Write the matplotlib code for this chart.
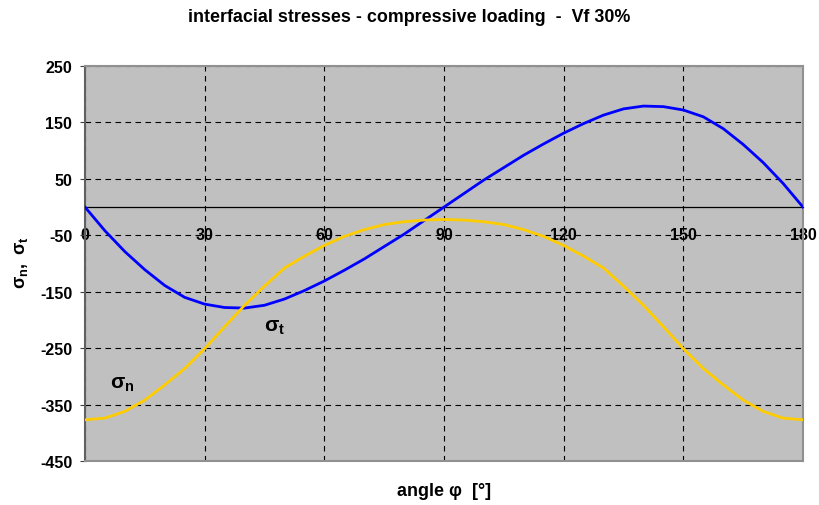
import matplotlib.pyplot as plt
import numpy as np

# angle in degrees, values every 5 deg
angle = [0, 5, 10, 15, 20, 25, 30, 35, 40, 45, 50, 55, 60, 65, 70, 75, 80, 85, 90,
         95, 100, 105, 110, 115, 120, 125, 130, 135, 140, 145, 150, 155, 160, 165, 170, 175, 180]
sigma_t = [0, -42, -79, -111, -139, -160, -172, -178, -179, -174, -163, -148, -131, -112, -92, -70, -48, -24, 0,
           24, 48, 70, 92, 112, 131, 148, 163, 174, 179, 178, 172, 160, 139, 111, 79, 42, 0]
sigma_n = [-377, -374, -362, -342, -315, -286, -251, -212, -174, -140, -108, -87, -68, -52, -40, -31, -26, -23, -22,
           -23, -26, -31, -40, -52, -68, -87, -108, -140, -174, -212, -251, -286, -315, -342, -362, -374, -377]

xticks = [0, 30, 60, 90, 120, 150, 180]
yticks = [-450, -350, -250, -150, -50, 50, 150, 250]

plt.rcParams['font.family'] = ['Liberation Sans', 'DejaVu Sans']
plt.rcParams['font.weight'] = 'bold'
plt.rcParams['axes.unicode_minus'] = False
plt.rcParams['mathtext.fontset'] = 'custom'
plt.rcParams['mathtext.rm'] = 'Liberation Sans:bold'
plt.rcParams['mathtext.it'] = 'Liberation Sans:bold'
plt.rcParams['mathtext.bf'] = 'Liberation Sans:bold'

fig = plt.figure(figsize=(8.19, 5.06), dpi=100)
ax = fig.add_axes([85/819, 1-462/506, 718/819, 395/506])
ax.set_facecolor('#C0C0C0')

ax.plot(angle, sigma_t, color='#0000FF', lw=2.0, zorder=3)
ax.plot(angle, sigma_n, color='#FFCC00', lw=2.0, zorder=3)

ax.set_xlim(0, 180)
ax.set_ylim(-450, 250)
ax.set_yticks(yticks)
ax.set_xticks(xticks)
ax.tick_params(axis='y', length=3.6, width=0.8, color='#404040', labelsize=11.5, pad=5.5)
ax.tick_params(axis='x', length=0, labelsize=11.5, pad=14.5)
for lb in ax.get_xticklabels() + ax.get_yticklabels():
    lb.set_fontweight('bold')

ax.grid(True, color='black', linestyle=(0, (5, 4)), lw=0.8, zorder=1)

# x axis crosses at zero
ax.spines['bottom'].set_position(('data', 0))
ax.spines['bottom'].set_color('black')
ax.spines['bottom'].set_linewidth(0.9)
ax.spines['left'].set_color('#606060')
ax.spines['left'].set_linewidth(1.5)
ax.spines['top'].set_color('#909090')
ax.spines['right'].set_color('#909090')
ax.spines['top'].set_linewidth(1.5)
ax.spines['right'].set_linewidth(1.5)
ax.axhline(-450, color='#909090', lw=1.5, clip_on=False, zorder=4)

ax.text(47.6, -212, r'$\sigma_t$', fontsize=15, ha='center', va='center')
ax.text(9.3, -313, r'$\sigma_n$', fontsize=15, ha='center', va='center')

fig.text(409/819, 1-17/506, 'interfacial stresses - compressive loading  -  Vf 30%',
         fontsize=12.9, fontweight='bold', ha='center', va='center')
fig.text(444/819, 1-492/506, 'angle φ  [°]', fontsize=13, fontweight='bold', ha='center', va='center')
fig.text(22/819, 1-263/506, r'$\sigma_n,\ \sigma_t$', fontsize=13, rotation=90,
         ha='center', va='center')

fig.savefig('out.png', dpi=100)
